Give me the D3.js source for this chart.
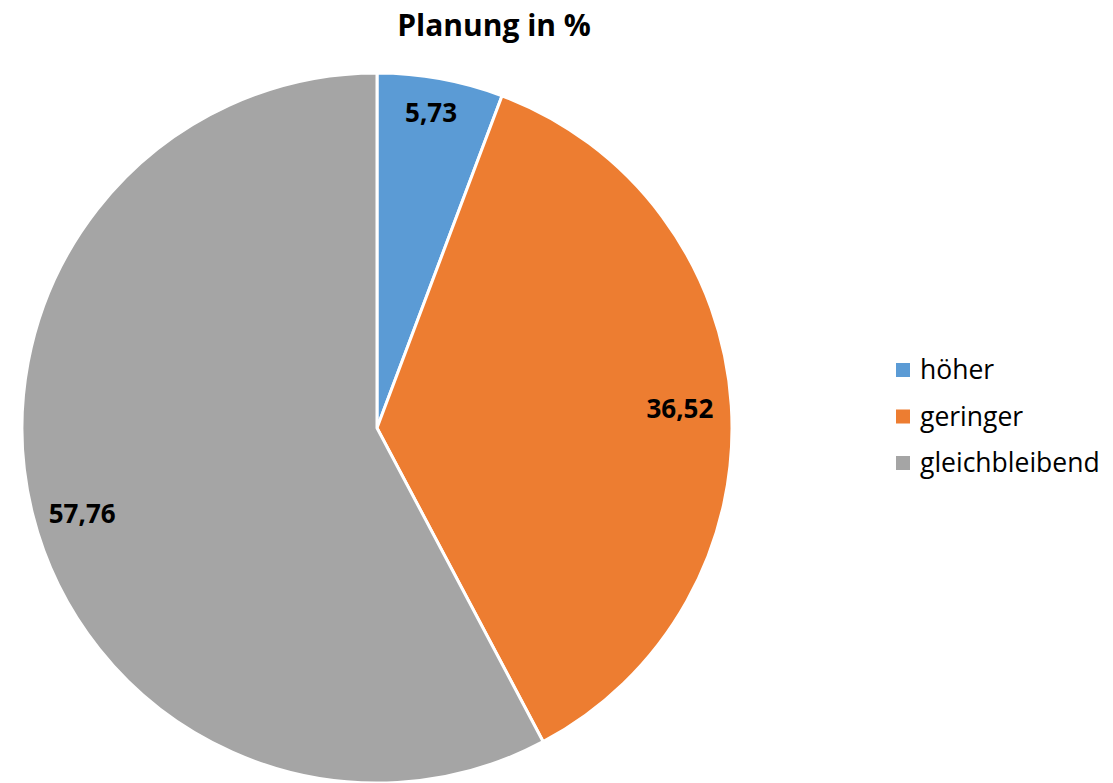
<!DOCTYPE html>
<html>
<head>
<meta charset="utf-8">
<script src="https://cdn.jsdelivr.net/npm/d3@7"></script>
<style>
  html, body { margin: 0; padding: 0; background: #fff; }
  svg { display: block; }
  text { font-family: "Open Sans", "Liberation Sans", sans-serif; }
</style>
</head>
<body>
<svg id="chart" width="1113" height="783"></svg>
<script>
const title = "Planung in %";
const categories = ["höher", "geringer", "gleichbleibend"];
const values = [5.73, 36.52, 57.76];
const valueLabels = ["5,73", "36,52", "57,76"];
const colors = ["#5B9BD5", "#ED7D31", "#A5A5A5"];

const svg = d3.select("#chart");
const cx = 377, cy = 428, radius = 355;

svg.append("text")
  .attr("x", 494).attr("y", 36)
  .attr("text-anchor", "middle")
  .attr("font-size", 30).attr("font-weight", "bold")
  .attr("fill", "#000")
  .text(title);

const pie = d3.pie().sort(null).value(d => d)(values);
const arc = d3.arc().innerRadius(0).outerRadius(radius);
const g = svg.append("g").attr("transform", `translate(${cx},${cy})`);

g.selectAll("path").data(pie).join("path")
  .attr("d", arc)
  .attr("fill", (d, i) => colors[i])
  .attr("stroke", "#fff").attr("stroke-width", 3)
  .attr("stroke-linejoin", "round");

const labelRadiusFrac = [0.90, 0.855, 0.865];
const labelAngleShift = [-0.01, 0.0, -0.04];
g.selectAll("text.val").data(pie).join("text")
  .attr("class", "val")
  .attr("transform", (d, i) => {
    const a = (d.startAngle + d.endAngle) / 2 + labelAngleShift[i];
    const r = radius * labelRadiusFrac[i];
    return `translate(${r * Math.sin(a)},${-r * Math.cos(a)})`;
  })
  .attr("text-anchor", "middle")
  .attr("dy", "0.35em")
  .attr("font-size", 26).attr("font-weight", "bold")
  .attr("fill", "#000")
  .text((d, i) => valueLabels[i]);

const legend = svg.append("g").attr("transform", "translate(896,363)");
const items = legend.selectAll("g").data(categories).join("g")
  .attr("transform", (d, i) => `translate(0,${i * 46.5})`);
items.append("rect").attr("width", 14).attr("height", 14)
  .attr("fill", (d, i) => colors[i]);
items.append("text").attr("x", 24).attr("y", 7).attr("dy", "0.35em")
  .attr("font-size", 26.5).attr("fill", "#000")
  .text(d => d);
</script>
</body>
</html>
